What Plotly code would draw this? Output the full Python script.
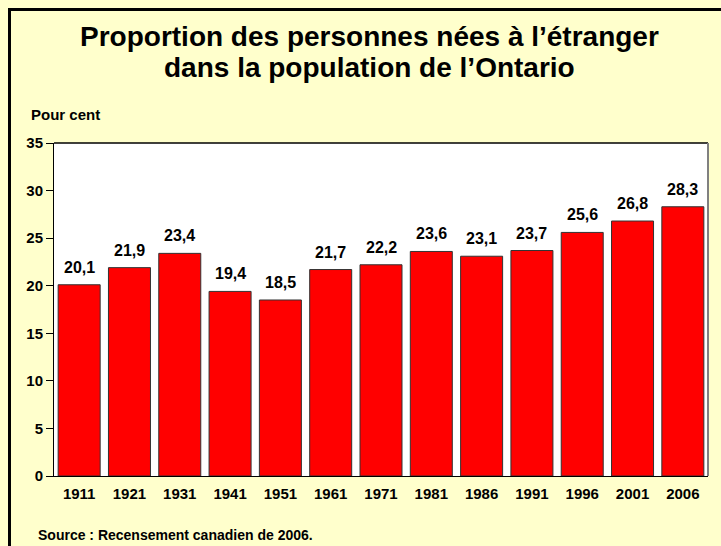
import plotly.graph_objects as go

years = ["1911", "1921", "1931", "1941", "1951", "1961", "1971", "1981", "1986", "1991", "1996", "2001", "2006"]
values = [20.1, 21.9, 23.4, 19.4, 18.5, 21.7, 22.2, 23.6, 23.1, 23.7, 25.6, 26.8, 28.3]
y_ticks = [0, 5, 10, 15, 20, 25, 30, 35]

W, H = 721, 546
L, R, T, B = 54, 13, 143, 70
pw = W - L - R
ph = H - T - B

def px_x(x):
    return (x - L) / pw

def px_y(y):
    return (H - B - y) / ph

font = "Arial, Liberation Sans, sans-serif"

fig = go.Figure(go.Bar(
    x=years, y=values,
    marker=dict(color="#FF0000", line=dict(color="#333333", width=1)),
    cliponaxis=False,
))

label_annots = [
    dict(x=i, y=v, xref="x", yref="y", text="<b>" + f"{v:.1f}".replace(".", ",") + "</b>",
         showarrow=False, yanchor="bottom", yshift=7,
         font=dict(family=font, size=16, color="black"))
    for i, v in enumerate(values)
]

fig.update_layout(
    width=W, height=H,
    margin=dict(l=L, r=R, t=T, b=B),
    paper_bgcolor="#FFFFCC",
    plot_bgcolor="white",
    bargap=0.165,
    showlegend=False,
    font=dict(family=font, color="black"),
    xaxis=dict(type="category", range=[-0.5, len(years) - 0.5], autorange=False,
               showline=True, linecolor="black", linewidth=1, mirror=False,
               ticks="", tickvals=years, ticktext=["<b>" + y + "</b>" for y in years],
               tickfont=dict(family=font, size=15, color="black"), ticklabelstandoff=4,
               showgrid=False),
    yaxis=dict(range=[0, 35], autorange=False, tickvals=y_ticks, ticktext=["<b>%d</b>" % t for t in y_ticks],
               showline=True, linecolor="black",
               linewidth=1, ticks="outside", ticklen=7, tickcolor="black",
               tickfont=dict(family=font, size=15, color="black"), showgrid=False,
               zeroline=False),
    annotations=label_annots + [
        dict(text="<b>Proportion des personnes nées à l’étranger</b>",
             xref="paper", yref="paper", x=px_x(369), y=px_y(47), xanchor="center", yanchor="bottom",
             yshift=-7, showarrow=False, font=dict(family=font, size=28, color="black")),
        dict(text="<b>dans la population de l’Ontario</b>",
             xref="paper", yref="paper", x=px_x(369), y=px_y(78), xanchor="center", yanchor="bottom",
             yshift=-7, showarrow=False, font=dict(family=font, size=28, color="black")),
        dict(text="<b>Pour cent</b>", xref="paper", yref="paper", x=px_x(29), y=px_y(115),
             xanchor="left", yanchor="middle", showarrow=False,
             font=dict(family=font, size=15, color="black")),
        dict(text="<b>Source : Recensement canadien de 2006.</b>", xref="paper", yref="paper",
             x=px_x(36), y=px_y(535), xanchor="left", yanchor="middle", showarrow=False,
             font=dict(family=font, size=14, color="black")),
    ],
    shapes=[
        dict(type="rect", xref="paper", yref="paper", x0=px_x(9.5), y0=px_y(600), x1=px_x(800), y1=px_y(9.5),
             line=dict(color="black", width=3), layer="below"),
        dict(type="line", xref="paper", yref="paper", x0=0, x1=1, y0=1, y1=1,
             line=dict(color="black", width=1.5)),
        dict(type="line", xref="paper", yref="paper", x0=1, x1=1, y0=0, y1=1,
             line=dict(color="#808080", width=2)),
    ],
)

fig.write_html("out.html", config={"displayModeBar": False},
               post_script="document.body.style.margin='0';document.body.style.overflow='hidden';")
